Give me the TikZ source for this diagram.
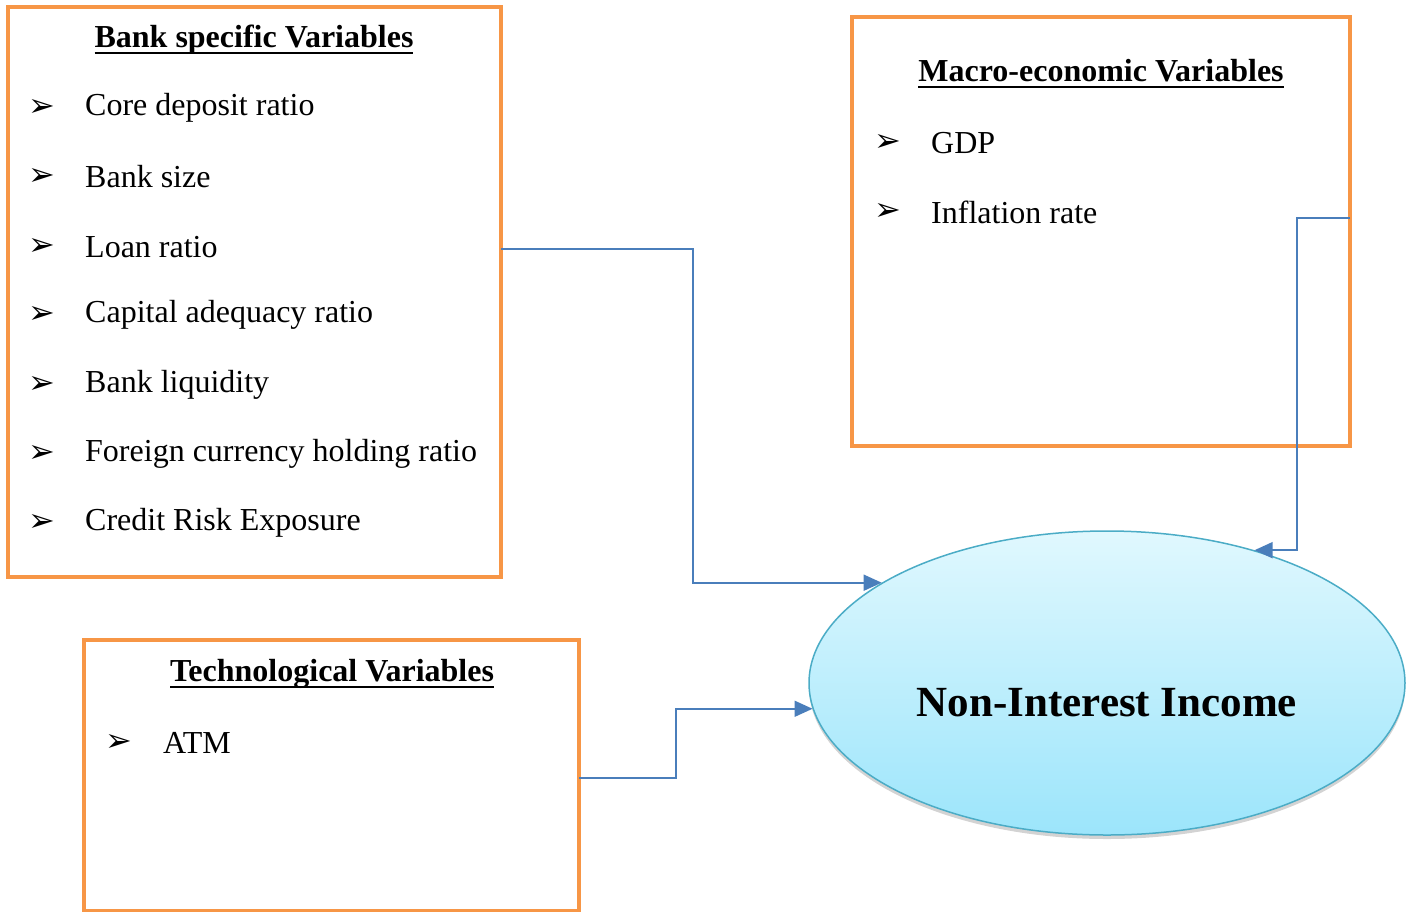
\documentclass[tikz,border=0pt]{standalone}
\usepackage{fontspec}
\setmainfont{Liberation Serif}
\newfontfamily\dejavu{DejaVu Sans}
\newcommand{\thickul}[1]{\setbox0\hbox{#1}\rlap{\vrule height -4pt depth 6.6pt width \wd0}\box0}
\usetikzlibrary{shapes.geometric,shadows,arrows.meta}
\definecolor{boxorange}{HTML}{F79646}
\definecolor{linkblue}{HTML}{4A7EBB}
\definecolor{rimblue}{HTML}{4BACC6}
\definecolor{toplight}{HTML}{E0F8FE}
\definecolor{botdeep}{HTML}{9CE5FB}

\begin{document}
\begin{tikzpicture}[x={(1pt,0pt)},y={(0pt,-1pt)},
  varbox/.style={draw=boxorange, line width=4pt, inner sep=0pt},
  boxtitle/.style={font=\fontsize{32}{38}\selectfont\bfseries, inner sep=0pt},
  bul/.style={font=\dejavu\fontsize{32}{38}\selectfont, inner sep=0pt},
  itemtext/.style={font=\fontsize{32}{38}\selectfont, anchor=west, inner sep=0pt},
  conn/.style={draw=linkblue, line width=1.6pt, -{Triangle[length=18pt,width=16pt]}}]

\useasboundingbox (0,0) rectangle (1411,911);

% boxes
\node[varbox, minimum width=493pt, minimum height=570pt] (bank) at (254.5,292) {};
\node[varbox, minimum width=498pt, minimum height=429pt] (macro) at (1101,231.5) {};
\node[varbox, minimum width=495pt, minimum height=271pt] (tech) at (331.5,775.5) {};

% bank specific
\node[boxtitle] (banktitle) at (254,40) {\thickul{Bank specific Variables}};
\node[bul] (b1) at (42,108) {➢};
\node[itemtext] (core) at (85,108) {Core deposit ratio};
\node[bul] (b2) at (42,177) {➢};
\node[itemtext] (size) at (85,177) {Bank size};
\node[bul] (b3) at (42,247) {➢};
\node[itemtext] (loan) at (85,247) {Loan ratio};
\node[bul] (b4) at (42,315) {➢};
\node[itemtext] (capital) at (85,315) {Capital adequacy ratio};
\node[bul] (b5) at (42,385) {➢};
\node[itemtext] (liquid) at (85,385) {Bank liquidity};
\node[bul] (b6) at (42,454) {➢};
\node[itemtext] (foreign) at (85,454) {Foreign currency holding ratio};
\node[bul] (b7) at (42,523) {➢};
\node[itemtext] (credit) at (85,523) {Credit Risk Exposure};

% macro-economic
\node[boxtitle] (macrotitle) at (1101,74) {\thickul{Macro-economic Variables}};
\node[bul] (m1) at (888,143) {➢};
\node[itemtext] (gdp) at (931,143) {GDP};
\node[bul] (m2) at (888,212) {➢};
\node[itemtext] (inflation) at (931,212) {Inflation rate};

% technological
\node[boxtitle] (techtitle) at (332,674) {\thickul{Technological Variables}};
\node[bul] (t1) at (119,743) {➢};
\node[itemtext] (atm) at (163,743) {ATM};

% dependent variable
\node[ellipse, draw=rimblue, line width=1.5pt, top color=toplight, bottom color=botdeep,
      minimum width=596pt, minimum height=304pt, inner sep=0pt,
      drop shadow={shadow xshift=0pt, shadow yshift=-4pt, opacity=0.35}] (nii) at (1107,683) {};
\node[font=\fontsize{43}{50}\selectfont\bfseries, inner sep=0pt] (niitext) at (1107,703) {Non-Interest Income};

% connectors
\coordinate (bankout) at (501,249);
\coordinate (macroout) at (1350,218);
\coordinate (techout) at (579,778);
\draw[conn] (bankout) -- ++(192,0) |- (nii.156);
\draw[conn] (macroout) -- ++(-53,0) |- (nii.42);
\draw[conn] (techout) -- ++(97,0) |- (nii.185);
\end{tikzpicture}
\end{document}
